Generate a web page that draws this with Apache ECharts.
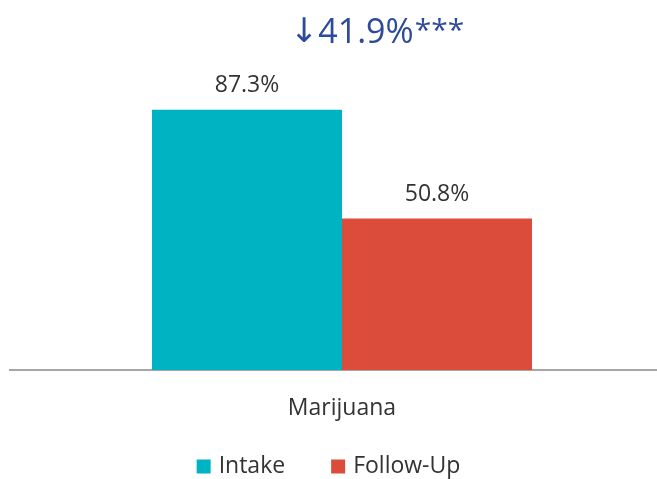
<!DOCTYPE html>
<html><head><meta charset="utf-8">
<script src="https://cdn.jsdelivr.net/npm/echarts@6/dist/echarts.min.js"></script>
<style>html,body{margin:0;padding:0;background:#fff}#c{width:657px;height:479px}</style>
</head><body><div id="c"></div>
<script>
const categories = ['Marijuana'];
const seriesNames = ['Intake', 'Follow-Up'];
const intakeValues = [87.3];
const followUpValues = [50.8];
const changeArrow = '↓';
const changeLabel = '41.9%';
const changeSignificance = '***';

const chart = echarts.init(document.getElementById('c'));
const font = '"Open Sans", "Noto Sans", sans-serif';
chart.setOption({
  animation: false,
  textStyle: { fontFamily: font },
  title: {
    text: '{a|' + changeArrow + '}{b|' + changeLabel + '}{c|' + changeSignificance + '}', left: 372, top: 11, textAlign: 'center',
    textStyle: {
      fontWeight: 'normal',
      rich: {
        a: { color: '#2E4A9B', fontSize: 34, fontWeight: 'normal', fontFamily: '"DejaVu Sans", sans-serif' },
        b: { color: '#2E4A9B', fontSize: 34, fontWeight: 'normal', fontFamily: font },
        c: { color: '#2E4A9B', fontSize: 30, fontWeight: 'normal', fontFamily: font, padding: [0, 0, 4, 1] }
      }
    }
  },
  legend: {
    bottom: -4, left: 'center', itemWidth: 14, itemHeight: 14, itemGap: 46,
    icon: 'rect',
    textStyle: { fontSize: 23, color: '#333', fontFamily: font, padding: [0, 0, 0, 3] },
    data: seriesNames
  },
  grid: { left: 27, right: 0, top: 72, bottom: 109 },
  graphic: [{ type: 'line', shape: { x1: 9, y1: 370, x2: 27, y2: 370 }, style: { stroke: '#A6A6A6', lineWidth: 2 } }],
  xAxis: {
    type: 'category', data: categories,
    axisLine: { lineStyle: { color: '#A6A6A6', width: 2 } },
    axisTick: { show: false },
    axisLabel: { fontSize: 23, color: '#333', margin: 27, fontFamily: font }
  },
  yAxis: { type: 'value', min: 0, max: 100, show: false, splitLine: { show: false } },
  series: [
    { name: seriesNames[0], type: 'bar', data: intakeValues, barWidth: 190, barGap: '0%',
      itemStyle: { color: '#00B3C2' },
      label: { show: true, position: 'top', distance: 13, fontSize: 23, color: '#333', fontFamily: font, formatter: p => p.value.toFixed(1) + '%' } },
    { name: seriesNames[1], type: 'bar', data: followUpValues, barWidth: 190,
      itemStyle: { color: '#DB4C3B' },
      label: { show: true, position: 'top', distance: 13, fontSize: 23, color: '#333', fontFamily: font, formatter: p => p.value.toFixed(1) + '%' } }
  ]
});
</script></body></html>
